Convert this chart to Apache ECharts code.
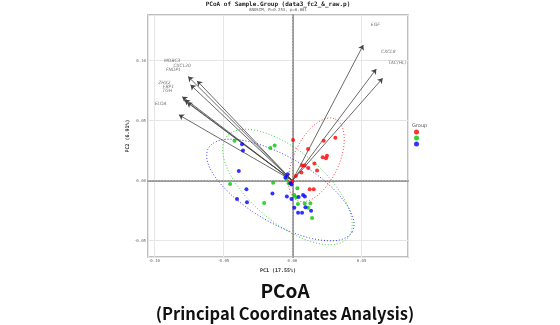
<!DOCTYPE html>
<html><head><meta charset="utf-8">
<script src="https://cdn.jsdelivr.net/npm/echarts@6/dist/echarts.min.js"></script>
<style>html,body{margin:0;padding:0;background:#fff}#c{width:560px;height:325px}</style>
</head><body><div id="c"></div>
<script>
// ---- data ----
const groupNames = ['G1', 'G2', 'G3'];
const groupColors = ['#ff0000', '#00c800', '#0000ff'];
const redX = [0.0005, 0.0113, 0.0226, 0.0310, 0.0219, 0.0250, 0.0243, 0.0070, 0.0088, 0.0115, 0.0159, 0.0178, 0.0065, 0.0025, 0.0125, 0.0154, 0.0000];
const redY = [0.0339, 0.0264, 0.0333, 0.0358, 0.0195, 0.0208, 0.0187, 0.0127, 0.0127, 0.0106, 0.0143, 0.0085, 0.0067, 0.0039, -0.0072, -0.0072, -0.0007];
const greenX = [-0.0418, -0.0159, -0.0128, -0.0450, -0.0139, -0.0204, -0.0027, 0.0036, 0.0014, 0.0027, 0.0040, 0.0089, 0.0130, 0.0113, 0.0142, -0.0043];
const greenY = [0.0333, 0.0273, 0.0292, -0.0028, -0.0017, -0.0186, -0.0022, -0.0063, -0.0119, -0.0138, -0.0194, -0.0190, -0.0188, -0.0225, -0.0311, 0.0014];
const blueX = [-0.0364, -0.0357, -0.0387, -0.0332, -0.0144, -0.0400, -0.0328, -0.0034, -0.0051, -0.0014, -0.0007, -0.0040, 0.0045, 0.0077, 0.0090, -0.0007, 0.0014, 0.0094, 0.0135, 0.0041, 0.0070];
const blueY = [0.0303, 0.0252, 0.0081, -0.0072, -0.0107, -0.0153, -0.0180, 0.0053, 0.0027, -0.0022, -0.0032, -0.0132, -0.0136, -0.0119, -0.0132, -0.0153, -0.0225, -0.0222, -0.0250, -0.0267, -0.0267];

// ellipse parameters: centre, semi-axis vectors (data units)
const ellipseCenter = [[0.0173, 0.0173], [-0.0036, -0.0053], [-0.0087, -0.0078]];
const ellipseMajor  = [[0.0137, 0.0340], [0.0437, -0.0423], [0.0519, -0.0350]];
const ellipseMinor  = [[0.0148, -0.0080], [-0.0167, -0.0230], [-0.0120, -0.0238]];

// biplot arrows (loadings)
const arrowNames = ['EGF', 'CXCL8', 'TAC(HL)', 'MOBC3', 'CXCL20', 'FNDP1', 'ZHX2', 'FBP1', 'TGH', 'ELOA'];
const arrowX = [0.0512, 0.0606, 0.0652, -0.0753, -0.0688, -0.0736, -0.0796, -0.0779, -0.0761, -0.0820];
const arrowY = [0.1130, 0.0930, 0.0853, 0.0867, 0.0831, 0.0798, 0.0700, 0.0673, 0.0652, 0.0548];
const arrowLabelX = [0.0599, 0.0693, 0.0758, -0.0868, -0.0796, -0.0859, -0.0924, -0.0895, -0.0904, -0.0952];
const arrowLabelY = [0.1298, 0.1073, 0.0981, 0.1002, 0.0958, 0.0923, 0.0817, 0.0783, 0.0750, 0.0639];

const xTitle = 'PC1 (17.55%)';
const yTitle = 'PC2 (6.91%)';
const mainTitle = 'PCoA of Sample.Group (data3_fc2_&_raw.p)';
const subTitle = 'ANOSIM, R=0.253, p=0.001';

// ---- build ----
const pts = [[redX, redY], [greenX, greenY], [blueX, blueY]];
function ellipsePath(i) {
  const out = [];
  const c = ellipseCenter[i], a = ellipseMajor[i], b = ellipseMinor[i];
  for (let k = 0; k <= 120; k++) {
    const t = k / 120 * Math.PI * 2;
    out.push([c[0] + Math.cos(t) * a[0] + Math.sin(t) * b[0], c[1] + Math.cos(t) * a[1] + Math.sin(t) * b[1]]);
  }
  return out;
}
const series = [];
for (let i = 0; i < 3; i++) {
  series.push({
    type: 'line', data: ellipsePath(i), showSymbol: false, silent: true, z: 2,
    lineStyle: { color: groupColors[i], width: 1, type: [1, 2], opacity: 0.75 }
  });
}
series.push({
  type: 'lines', coordinateSystem: 'cartesian2d', z: 3, silent: true,
  symbol: ['none', 'arrow'], symbolSize: 5,
  lineStyle: { color: '#444', width: 0.8, opacity: 1 },
  data: arrowX.map((x, i) => ({ coords: [[0, 0], [x, arrowY[i]]] }))
});
series.push({
  type: 'scatter', symbolSize: 0, silent: true, z: 4,
  data: arrowLabelX.map((x, i) => ({ value: [x, arrowLabelY[i]], name: arrowNames[i] })),
  label: { show: true, position: 'inside', formatter: p => p.name, fontSize: 4.5, fontStyle: 'italic', color: '#555', fontFamily: 'DejaVu Sans' }
});
for (let i = 0; i < 3; i++) {
  series.push({
    name: groupNames[i], type: 'scatter', symbol: 'circle', symbolSize: 4, z: 5,
    itemStyle: { color: groupColors[i] },
    data: pts[i][0].map((x, k) => [x, pts[i][1][k]]),
    markLine: i === 0 ? {
      silent: true, symbol: 'none', label: { show: false },
      lineStyle: { color: '#bbb', type: [1.5, 1.5], width: 1 },
      data: [{ xAxis: 0 }, { yAxis: 0 }]
    } : undefined
  });
}

const chart = echarts.init(document.getElementById('c'), null, { renderer: 'canvas' });
chart.setOption({
  animation: false,
  backgroundColor: '#fff',
  title: [
    { text: mainTitle, left: 278, top: 1, padding: 0, textAlign: 'center', textStyle: { fontSize: 6, fontWeight: 'bold', fontFamily: 'DejaVu Sans Mono', color: '#222' } },
    { text: subTitle, left: 278, top: 8, padding: 0, textAlign: 'center', textStyle: { fontSize: 4, fontWeight: 'normal', fontFamily: 'DejaVu Sans Mono', color: '#555' } },
    { text: 'Group', left: 412, top: 123, padding: 0, textStyle: { fontSize: 5, fontWeight: 'normal', fontFamily: 'DejaVu Sans', color: '#555' } },
    { text: 'PCoA', left: 280, top: 276, textAlign: 'center', textStyle: { fontSize: 19, fontWeight: 'bold', fontFamily: 'Noto Sans CJK KR', color: '#111' } },
    { text: '(Principal Coordinates Analysis)', left: 280, top: 300, textAlign: 'center', textStyle: { fontSize: 16.5, fontWeight: 'bold', fontFamily: 'Noto Sans CJK KR', color: '#111' } }
  ],
  legend: {
    orient: 'vertical', left: 414, top: 129.5, padding: 0, itemWidth: 5, itemHeight: 5, itemGap: 1,
    icon: 'circle', data: groupNames, formatter: () => '', textStyle: { fontSize: 4 }
  },
  grid: { left: 148, right: 152, top: 15, bottom: 68, show: true, borderColor: '#aaa', borderWidth: 1.5 },
  xAxis: {
    type: 'value', min: -0.1043, max: 0.0835, splitNumber: 4,
    name: xTitle, nameLocation: 'middle', nameGap: 8,
    nameTextStyle: { fontSize: 5, fontFamily: 'DejaVu Sans Mono', fontWeight: 'bold', color: '#333' },
    axisLine: { show: true, lineStyle: { color: '#999', width: 2 } },
    axisTick: { show: false },
    axisLabel: { fontSize: 4, color: '#666', fontFamily: 'DejaVu Sans Mono', margin: 2, showMinLabel: false, showMaxLabel: false, formatter: v => v.toFixed(2) },
    splitLine: { show: true, lineStyle: { color: '#e6e6e6', width: 1 } }
  },
  yAxis: {
    type: 'value', min: -0.0636, max: 0.138, splitNumber: 5,
    name: yTitle, nameLocation: 'middle', nameGap: 14, nameRotate: 90,
    nameTextStyle: { fontSize: 5, fontFamily: 'DejaVu Sans Mono', fontWeight: 'bold', color: '#333' },
    axisLine: { show: true, lineStyle: { color: '#999', width: 2 } },
    axisTick: { show: false },
    axisLabel: { fontSize: 4, color: '#666', fontFamily: 'DejaVu Sans Mono', margin: 2, showMinLabel: false, showMaxLabel: false, formatter: v => v.toFixed(2) },
    splitLine: { show: true, lineStyle: { color: '#e6e6e6', width: 1 } }
  },
  series: series
});
</script></body></html>
